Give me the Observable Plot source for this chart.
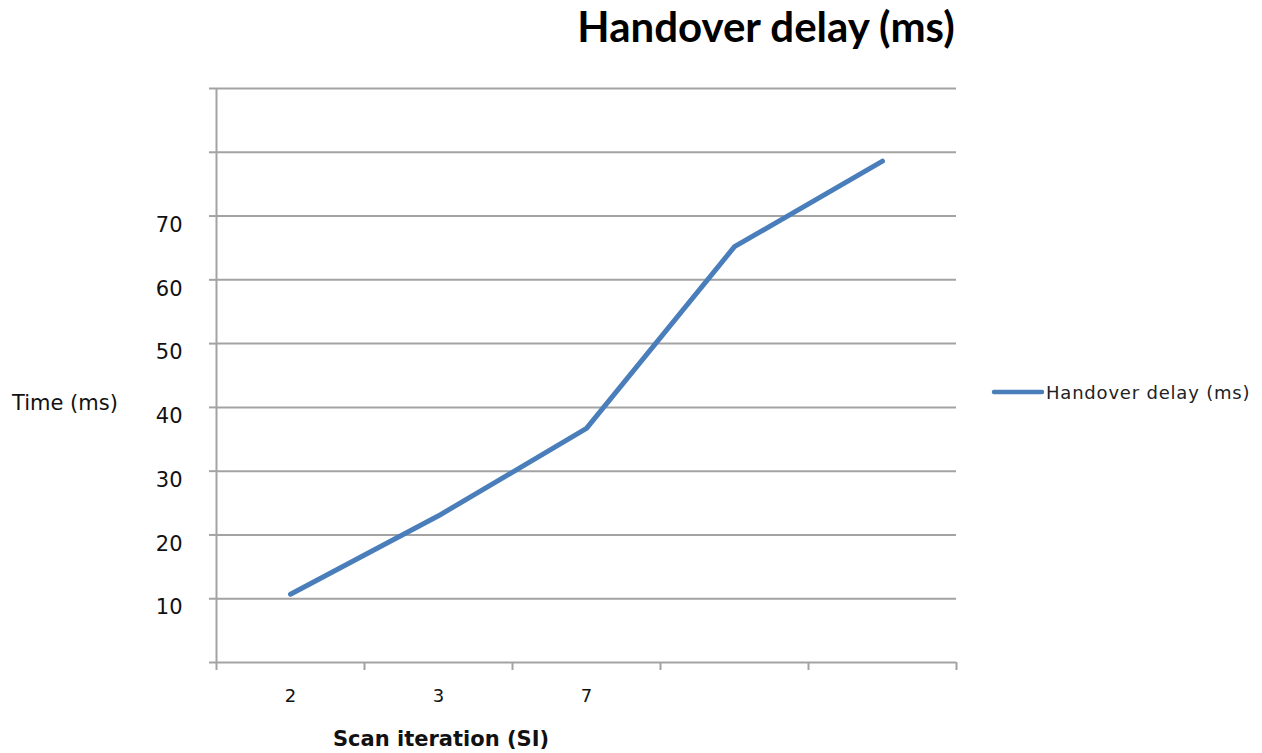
<!DOCTYPE html>
<html>
<head>
<meta charset="utf-8">
<script src="https://cdn.jsdelivr.net/npm/d3@7"></script>
<script src="https://cdn.jsdelivr.net/npm/@observablehq/plot@0.6"></script>
<style>
  html, body { margin: 0; padding: 0; background: #fff; }
  #chart { position: relative; width: 1262px; height: 753px; overflow: hidden; }
</style>
</head>
<body>
<div id="chart"></div>
<script>
// ---- data ----
const categories = ["2", "3", "7", "", ""];
const delayValues = [10.7, 23, 36.7, 65.2, 78.6];
const yGridTicks = [0, 10, 20, 30, 40, 50, 60, 70, 80, 90];
const yTickLabels = [10, 20, 30, 40, 50, 60, 70];
const seriesName = "Handover delay (ms)";
const titleText = "Handover delay (ms)";
const yTitle = "Time (ms)";
const xTitle = "Scan iteration (SI)";

const data = categories.map((c, i) => ({ i, cat: c, value: delayValues[i] }));
const gridColor = "#a3a3a3";
const lineColor = "#4a7ebb";

const plot = Plot.plot({
  width: 1262,
  height: 753,
  marginTop: 88,
  marginBottom: 91,
  marginLeft: 216,
  marginRight: 306,
  style: { fontFamily: "DejaVu Sans", color: "#000", background: "#fff", overflow: "visible" },
  x: { type: "linear", domain: [0, categories.length], axis: null },
  y: { domain: [0, 90], axis: null },
  marks: [
    Plot.gridY(yGridTicks, { stroke: gridColor, strokeOpacity: 1, strokeWidth: 2 }),
    Plot.axisY(yGridTicks, { tickSize: 7, tickFormat: () => "", stroke: gridColor, strokeWidth: 2, label: null }),
    Plot.axisY(yTickLabels, { tickSize: 0, tickPadding: 34, fontSize: 21, dy: 9, label: null, fill: "#111" }),
    Plot.ruleX([0], { y1: 0, y2: 90, stroke: gridColor, strokeWidth: 2 }),
    Plot.axisX(d3.range(0, categories.length + 1), { tickSize: 8, tickFormat: () => "", stroke: gridColor, strokeWidth: 2, label: null }),
    Plot.axisX(categories.map((c, i) => i + 0.5), {
      tickSize: 0, tickPadding: 27, fontSize: 18, label: null, fill: "#111",
      tickFormat: d => categories[Math.floor(d)]
    }),
    Plot.line(data, { x: d => d.i + 0.5, y: "value", stroke: lineColor, strokeWidth: 5, strokeLinejoin: "round", strokeLinecap: "round" })
  ]
});

document.getElementById("chart").appendChild(plot);

const svg = d3.select(plot);
svg.append("text")
  .attr("x", 766).attr("y", 42)
  .attr("text-anchor", "middle")
  .style("font-family", "Lato")
  .style("font-weight", "bold")
  .style("font-size", "42px")
  .attr("fill", "#000")
  .text(titleText);

svg.append("text")
  .attr("x", 12).attr("y", 410)
  .attr("text-anchor", "start")
  .style("font-family", "DejaVu Sans")
  .style("font-size", "21px")
  .attr("fill", "#111")
  .text(yTitle);

svg.append("text")
  .attr("x", 333).attr("y", 746)
  .attr("text-anchor", "start")
  .style("font-family", "DejaVu Sans")
  .style("font-weight", "bold")
  .style("font-size", "21px")
  .attr("fill", "#111")
  .text(xTitle);

// legend
svg.append("line")
  .attr("x1", 994).attr("x2", 1042).attr("y1", 392).attr("y2", 392)
  .attr("stroke", lineColor).attr("stroke-width", 4.5).attr("stroke-linecap", "round");
svg.append("text")
  .attr("x", 1046).attr("y", 399)
  .attr("text-anchor", "start")
  .style("font-family", "DejaVu Sans")
  .style("font-size", "18px")
  .style("letter-spacing", "0.8px")
  .attr("fill", "#222")
  .text(seriesName);
</script>
</body>
</html>
